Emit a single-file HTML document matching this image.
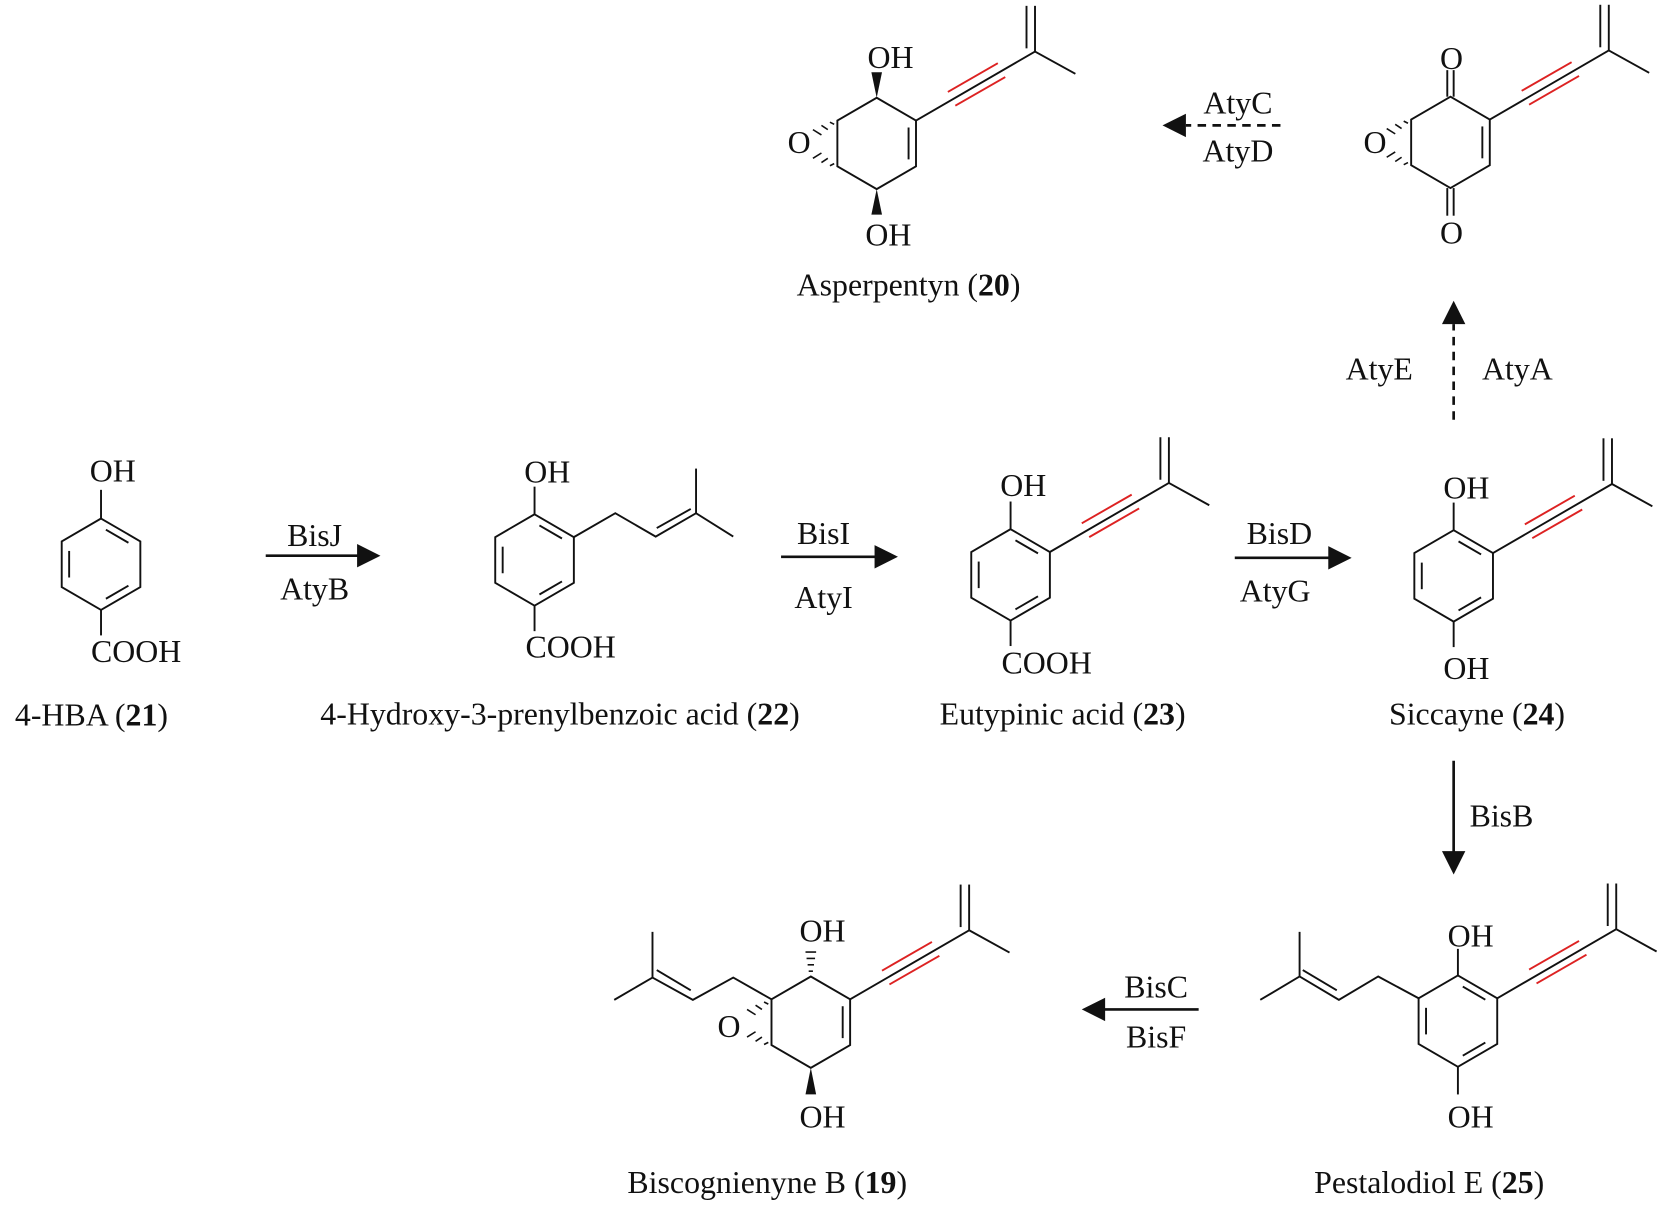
<!DOCTYPE html>
<html><head><meta charset="utf-8"><style>
html,body{margin:0;padding:0;background:#fff;}
svg{display:block;}
text{font-family:"Liberation Serif",serif;font-size:30px;fill:#111;}
</style></head><body>
<svg width="1662" height="1206" viewBox="0 0 1564 1135" xmlns="http://www.w3.org/2000/svg">
<defs>
<g id="benz" stroke="#111" stroke-width="1.8" fill="none">
<polygon points="0,-43 37,-21.5 37,21.5 0,43 -37,21.5 -37,-21.5"/>
<line x1="4.6" y1="-32.5" x2="25.8" y2="-20.2"/>
<line x1="-30" y1="-12.5" x2="-30" y2="12.5"/>
<line x1="25.8" y1="20.2" x2="4.6" y2="32.5"/>
</g>
<g id="ring" stroke="#111" stroke-width="1.8" fill="none">
<polygon points="0,-43 37,-21.5 37,21.5 0,43 -37,21.5 -37,-21.5"/>
<line x1="30" y1="-15" x2="30" y2="15"/>
</g>
<g id="alk" stroke-width="1.8" fill="none">
<line x1="0" y1="0" x2="112" y2="-65" stroke="#111"/>
<line x1="37" y1="-14" x2="84" y2="-41" stroke="#d22"/>
<line x1="30" y1="-27" x2="77" y2="-54" stroke="#d22"/>
<line x1="112" y1="-65" x2="112" y2="-108" stroke="#111"/>
<line x1="104" y1="-68" x2="104" y2="-108" stroke="#111"/>
<line x1="112" y1="-65" x2="150" y2="-44" stroke="#111"/>
</g>
</defs>

<g stroke="#111" stroke-width="1.8" fill="none">
<use href="#benz" x="95" y="531"/>
<line x1="95" y1="488" x2="95" y2="461"/>
<line x1="95" y1="574" x2="95" y2="598"/>
<use href="#benz" x="503" y="527"/>
<line x1="503" y1="484" x2="503" y2="458"/>
<line x1="503" y1="570" x2="503" y2="594"/>
<polyline points="540,505.5 579,483 617,505 655,483 690,505"/>
<line x1="618" y1="497" x2="650" y2="479"/>
<line x1="655" y1="483" x2="655" y2="441"/>
<use href="#benz" x="951" y="541"/>
<line x1="951" y1="498" x2="951" y2="472"/>
<line x1="951" y1="584" x2="951" y2="608"/>
<use href="#alk" x="988" y="519.5"/>
<use href="#benz" x="1368" y="542"/>
<line x1="1368" y1="499" x2="1368" y2="473"/>
<line x1="1368" y1="585" x2="1368" y2="609"/>
<use href="#alk" x="1405" y="520.5"/>
<use href="#ring" x="1365" y="134"/>
<line x1="1362" y1="91" x2="1362" y2="66"/><line x1="1368" y1="91" x2="1368" y2="66"/>
<line x1="1362" y1="177" x2="1362" y2="203"/><line x1="1368" y1="177" x2="1368" y2="203"/>
<use href="#alk" x="1402" y="112.5"/>
<use href="#ring" x="825" y="135"/>
<use href="#alk" x="862" y="113.5"/>
<use href="#benz" x="1372" y="961"/>
<line x1="1372" y1="918" x2="1372" y2="893"/>
<line x1="1372" y1="1004" x2="1372" y2="1030"/>
<use href="#alk" x="1409" y="939.5"/>
<polyline points="1335,939.5 1297,919 1260,941 1223,919 1186,941"/>
<line x1="1258" y1="932" x2="1226" y2="913"/>
<line x1="1223" y1="919" x2="1223" y2="877"/>
<use href="#ring" x="763" y="962"/>
<use href="#alk" x="800" y="940.5"/>
<polyline points="726,940.5 690,920 652,941 614,920 578,941"/>
<line x1="650" y1="932" x2="618" y2="913"/>
<line x1="614" y1="920" x2="614" y2="877"/>
</g>

<g fill="#111" stroke="#111" stroke-width="1.5">
<polygon points="825,92 820,68 830,68" stroke="none"/>
<polygon points="825,178 820,202 830,202" stroke="none"/>
<line x1="785" y1="117" x2="781" y2="115"/><line x1="779" y1="122" x2="773" y2="118"/><line x1="773" y1="127" x2="765" y2="122"/>
<line x1="785" y1="154" x2="781" y2="156"/><line x1="779" y1="149" x2="773" y2="153"/><line x1="773" y1="144" x2="765" y2="149"/>
<line x1="1325" y1="116" x2="1321" y2="114"/><line x1="1319" y1="121" x2="1313" y2="117"/><line x1="1313" y1="126" x2="1305" y2="121"/>
<line x1="1325" y1="153" x2="1321" y2="155"/><line x1="1319" y1="148" x2="1313" y2="152"/><line x1="1313" y1="143" x2="1305" y2="148"/>
<line x1="723" y1="945" x2="719" y2="943"/><line x1="717" y1="950" x2="711" y2="946"/><line x1="711" y1="955" x2="703" y2="950"/>
<line x1="723" y1="981" x2="719" y2="983"/><line x1="717" y1="976" x2="711" y2="980"/><line x1="711" y1="971" x2="703" y2="976"/>
<line x1="761" y1="914" x2="765" y2="914"/><line x1="760" y1="908" x2="766" y2="908"/><line x1="759" y1="902" x2="767" y2="902"/><line x1="758" y1="896" x2="768" y2="896"/>
<polygon points="763,1005 758,1030 768,1030" stroke="none"/>
</g>

<g stroke="#111" stroke-width="2.5" fill="#111">
<line x1="250" y1="523" x2="338" y2="523"/><polygon points="336,512 358,523 336,534" stroke="none"/>
<line x1="735" y1="524" x2="825" y2="524"/><polygon points="823,513 845,524 823,535" stroke="none"/>
<line x1="1162" y1="525" x2="1252" y2="525"/><polygon points="1250,514 1272,525 1250,536" stroke="none"/>
<line x1="1368" y1="716" x2="1368" y2="803"/><polygon points="1357,801 1368,823 1379,801" stroke="none"/>
<line x1="1128" y1="950" x2="1038" y2="950"/><polygon points="1040,939 1018,950 1040,961" stroke="none"/>
<line x1="1368" y1="395" x2="1368" y2="305" stroke-dasharray="8,6"/><polygon points="1357,305 1368,283 1379,305" stroke="none"/>
<line x1="1205" y1="118" x2="1116" y2="118" stroke-dasharray="8,6"/><polygon points="1116,107 1094,118 1116,129" stroke="none"/>
</g>

<g text-anchor="middle">
<text x="106" y="453">OH</text>
<text x="128" y="623">COOH</text>
<text x="86" y="683">4-HBA (<tspan font-weight="bold">21</tspan>)</text>
<text x="296" y="514">BisJ</text>
<text x="296" y="564">AtyB</text>
<text x="515" y="454">OH</text>
<text x="537" y="619">COOH</text>
<text x="527" y="682">4-Hydroxy-3-prenylbenzoic acid (<tspan font-weight="bold">22</tspan>)</text>
<text x="775" y="512">BisI</text>
<text x="775" y="572">AtyI</text>
<text x="963" y="467">OH</text>
<text x="985" y="634">COOH</text>
<text x="1000" y="682">Eutypinic acid (<tspan font-weight="bold">23</tspan>)</text>
<text x="1204" y="512">BisD</text>
<text x="1200" y="566">AtyG</text>
<text x="1380" y="469">OH</text>
<text x="1380" y="639">OH</text>
<text x="1390" y="682">Siccayne (<tspan font-weight="bold">24</tspan>)</text>
<text x="1298" y="357">AtyE</text>
<text x="1428" y="357">AtyA</text>
<text x="1366" y="65">O</text>
<text x="1366" y="229">O</text>
<text x="1294" y="144">O</text>
<text x="1165" y="107">AtyC</text>
<text x="1165" y="152">AtyD</text>
<text x="838" y="64">OH</text>
<text x="836" y="231">OH</text>
<text x="752" y="144">O</text>
<text x="855" y="278">Asperpentyn (<tspan font-weight="bold">20</tspan>)</text>
<text x="1413" y="778">BisB</text>
<text x="1088" y="939">BisC</text>
<text x="1088" y="986">BisF</text>
<text x="1384" y="891">OH</text>
<text x="1384" y="1061">OH</text>
<text x="1345" y="1123">Pestalodiol E (<tspan font-weight="bold">25</tspan>)</text>
<text x="774" y="886">OH</text>
<text x="774" y="1061">OH</text>
<text x="686" y="976">O</text>
<text x="722" y="1123">Biscognienyne B (<tspan font-weight="bold">19</tspan>)</text>
</g>
</svg>
</body></html>
